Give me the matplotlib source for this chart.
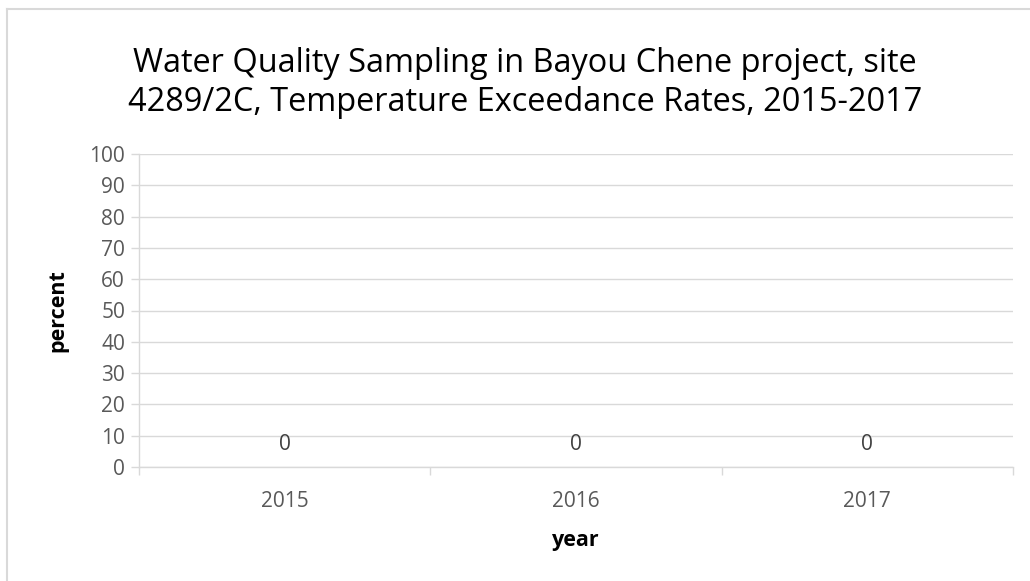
import matplotlib
matplotlib.use("Agg")
import matplotlib.pyplot as plt
from matplotlib.lines import Line2D

plt.rcParams['font.family'] = ['Open Sans', 'DejaVu Sans']

years = ["2015", "2016", "2017"]
percent = [0, 0, 0]
yticks = list(range(0, 101, 10))
title = "Water Quality Sampling in Bayou Chene project, site\n4289/2C, Temperature Exceedance Rates, 2015-2017"

W, H = 1030, 581
fig = plt.figure(figsize=(W / 100, H / 100), dpi=100)
ax = fig.add_axes([139 / W, 1 - 467 / H, (1013 - 139) / W, (467 - 154) / H])

grid_c = "#d9d9d9"
x = list(range(len(years)))
ax.bar(x, percent, width=0.6, color="#4472c4")
for xi, v in zip(x, percent):
    ax.annotate(f"{v}", (xi, v), xytext=(0, 23), textcoords="offset pixels",
                ha="center", va="center", fontsize=15, color="#404040")

ax.set_xlim(-0.5, len(years) - 0.5)
ax.set_ylim(0, 100)
ax.set_yticks(yticks)
ax.set_yticklabels([str(t) for t in yticks])
ax.set_xticks(x)
ax.set_xticklabels(years)
ax.set_xticks([i - 0.5 for i in range(len(years) + 1)], minor=True)
ax.tick_params(axis="x", which="major", length=0, pad=17, labelsize=15, labelcolor="#595959")
ax.tick_params(axis="x", which="minor", length=6, width=1, color=grid_c, direction="out")
ax.tick_params(axis="y", length=6, width=1, color=grid_c, labelsize=15, labelcolor="#595959", pad=4)
ax.yaxis.grid(True, color=grid_c, linewidth=1)
ax.set_axisbelow(True)
for s in ["top", "right"]:
    ax.spines[s].set_visible(False)
ax.spines["left"].set_color(grid_c)
ax.spines["bottom"].set_color(grid_c)
ax.spines["left"].set_linewidth(1)
ax.spines["bottom"].set_linewidth(1)

ax.set_xlabel("year", fontsize=15.5, fontweight="bold", labelpad=13)
ax.set_ylabel("percent", fontsize=15.5, fontweight="bold", labelpad=15)
fig.text(525 / W, 1 - 83 / H, title, ha="center", va="center", fontsize=23.4,
         color="#000000", linespacing=1.22)

fig.add_artist(Line2D([7 / W, 7 / W], [0, 1 - 9 / H], color=grid_c, linewidth=1.5))
fig.add_artist(Line2D([7 / W, 1], [1 - 9 / H, 1 - 9 / H], color=grid_c, linewidth=1.5))

fig.savefig("out.png", dpi=100)
